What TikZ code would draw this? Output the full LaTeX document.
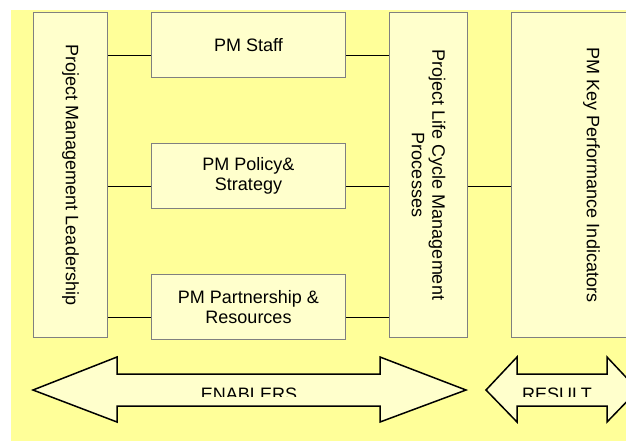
\documentclass[tikz,border=0pt]{standalone}
\usepackage{fontspec}
\setmainfont{Liberation Sans}
\usetikzlibrary{positioning}
\definecolor{pagefill}{HTML}{FFFF99}
\definecolor{boxfill}{HTML}{FFFFCC}
\definecolor{boxline}{HTML}{808080}

\begin{document}
\begin{tikzpicture}[x=1pt, y=-1pt,
    block/.style={draw=boxline, fill=boxfill, line width=1pt, rectangle, inner sep=0pt, align=center, font=\fontsize{18}{20.5}\selectfont},
    vtext/.style={rotate=-90, align=center, font=\fontsize{18}{20.5}\selectfont},
    link/.style={line width=1.6pt, transform canvas={yshift=-10.5pt}},
    bigarrow/.style={draw, fill=boxfill, line width=1.5pt, line join=miter},
    tag/.style={anchor=base, inner sep=0pt, font=\fontsize{18}{20.5}\selectfont}
]
\useasboundingbox (0,0) rectangle (626,440);
\clip (0,0) rectangle (626,440);
\fill[pagefill] (11,10) rectangle (660,460);

% columns
\node[block, anchor=north west, minimum width=74pt, minimum height=325pt,
      label={[vtext]center:Project Management Leadership}] (lead) at (33,12) {};
\node[block, minimum width=194pt, minimum height=65pt, right=43pt of lead.north east, anchor=north west] (staff) {PM Staff};
\node[block, minimum width=194pt, minimum height=65pt, below=65pt of staff] (policy) {PM Policy\&\\Strategy};
\node[block, minimum width=194pt, minimum height=65pt, below=65pt of policy] (partner) {PM Partnership \&\\Resources};
\node[block, minimum width=78pt, minimum height=325pt, right=43pt of staff.north east, anchor=north west,
      label={[vtext]center:{Project Life Cycle Management\\Processes}}] (plc) {};
\node[block, minimum width=160pt, minimum height=325pt, right=43pt of plc.north east, anchor=north west,
      label={[vtext]center:PM Key Performance Indicators}] (kpi) {};

% links between the columns
\foreach \n in {staff,policy,partner} {
  \draw[link] (lead.east |- \n.west) -- (\n.west);
  \draw[link] (\n.east) -- (plc.west |- \n.east);
}
\draw[link] (plc.east |- policy.east) -- (kpi.west |- policy.east);

% block arrows
\draw[bigarrow] (33,390) -- (117,357) -- (117,374) -- (380,374) -- (380,357) -- (466,390)
  -- (380,422) -- (380,406) -- (117,406) -- (117,422) -- cycle;
\draw[bigarrow] (486,390) -- (517,357) -- (517,374) -- (607,374) -- (607,357) -- (638,390)
  -- (607,422) -- (607,406) -- (517,406) -- (517,422) -- cycle;

\begin{scope}
  \clip (0,0) rectangle (626,396.5);
  \node[tag] (enablers) at (249,400) {ENABLERS};
  \node[tag] (result) at (557,400) {RESULT};
\end{scope}

\end{tikzpicture}
\end{document}
